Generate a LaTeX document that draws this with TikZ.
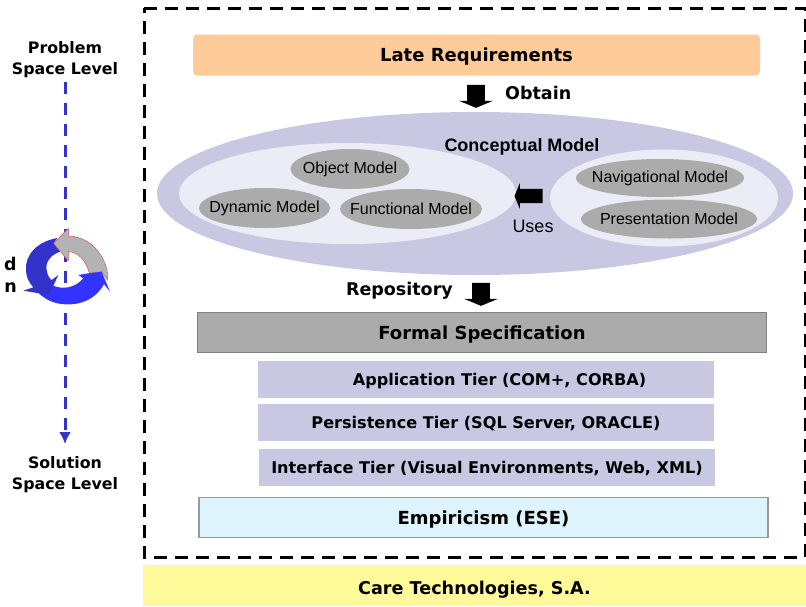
\documentclass[tikz,border=0pt]{standalone}
\usepackage{fontspec}
\setmainfont{Liberation Sans}
\newfontfamily\verdana{DejaVu Sans}
\usetikzlibrary{shapes.geometric,shapes.arrows,arrows.meta}
\definecolor{lila}{HTML}{C8C8E3}
\definecolor{lilaclaro}{HTML}{ECECF7}
\definecolor{gris}{HTML}{ABABAB}
\definecolor{azul}{HTML}{3333CC}
\tikzset{
	etiq/.style={font=\verdana\bfseries\fontsize{#1}{#1}\selectfont,inner sep=0pt},
	etiqc/.style={etiq=#1,text height=.73*#1pt,text depth=0pt},
	modelo/.style={fill=gris,ellipse,inner sep=0pt,inner xsep=-15pt,font=\fontsize{16}{16}\selectfont},
	capa/.style={fill=lila,minimum width=456pt,minimum height=37pt,etiqc=16.1},
	flecha/.style={fill=black,single arrow,inner xsep=0pt,inner ysep=#1,single arrow tip angle=135,single arrow head extend=8pt},
}
\begin{document}
\begin{tikzpicture}[x=1pt,y=-1pt]
	\useasboundingbox (0,0) rectangle (806,606);

	% Niveles
	\node[etiq=15.8,align=center] (problem) at (65,60) {Problem\\[5pt]Space Level};
	\node[etiq=15.8,align=center] (solution) at (65,475) {Solution\\[5pt]Space Level};
	\coordinate (ini) at (65,82);
	\coordinate (fin) at (65,444);
	\draw[azul,line width=3pt,dash pattern=on 12pt off 9pt,-{Latex[length=12pt,width=12pt]}] (ini) -- (fin);

	% Ciclo
	\begin{scope}[shift={(0,210)},scale=1/3]
		\draw[fill=gris!90,draw=red!50!gris,line width=.5pt] (205,55) -- (160,100) -- (205,152) -- (205,125) .. controls (235,125) and (260,155) .. (268,190) -- (305,185) -- (322,210) .. controls (330,170) and (290,80) .. (205,78) -- cycle;
		\fill[blue!80!white] (235,195) -- (265,190) -- (305,185) -- (330,245) -- (312,222) .. controls (290,265) and (245,285) .. (200,283) .. controls (165,283) and (130,270) .. (100,232) -- (155,225) .. controls (185,240) and (225,235) .. (250,205) -- cycle;
		\fill[azul] (172,84) -- (160,100) -- (180,125) .. controls (150,135) and (135,160) .. (140,180) .. controls (142,195) and (148,205) .. (155,210) -- (175,195) -- (147,255) -- (70,242) -- (100,232) .. controls (85,215) and (78,200) .. (78,180) .. controls (75,135) and (110,95) .. (172,84) -- cycle;
	\end{scope}
	\node[etiq=17.5] (d) at (10.5,264) {d};
	\node[etiq=17.5] (n) at (10.5,288) {n};

	% Marco
	\draw[line width=3pt,dash pattern=on 13pt off 8pt] (144,8) -- (805,8) -- (805,557) -- (144,557) -- cycle;

	\node[fill=orange!40!white,rounded corners=4pt,minimum width=567pt,minimum height=41pt,etiqc=18] (late) at (476.5,55) {Late Requirements};

	\node[flecha=8.7pt,rotate=-90,minimum height=23pt] (aobtain) at (476,94.5) {};
	\node[etiq=17.5,anchor=west] (obtain) at (505,93) {Obtain};

	% Modelo conceptual
	\node[ellipse,fill=lila,minimum width=636pt,minimum height=163pt,inner sep=0pt] (conceptual) at (475,193.5) {};
	\node[ellipse,fill=lilaclaro,minimum width=337pt,minimum height=101pt,inner sep=0pt] (izq) at (347.5,193.5) {};
	\node[ellipse,fill=lilaclaro,minimum width=228pt,minimum height=97pt,inner sep=0pt] (der) at (664,198) {};
	\node[font=\bfseries\fontsize{18}{18}\selectfont,inner sep=0pt] (titulo) at (522,147) {Conceptual Model};
	\node[modelo,minimum width=119pt,minimum height=40pt] (object) at (350,169) {Object Model};
	\node[modelo,minimum width=131pt,minimum height=40pt] (dynamic) at (264.5,208) {Dynamic Model};
	\node[modelo,minimum width=142pt,minimum height=40pt] (functional) at (411,209) {Functional Model};
	\node[modelo,minimum width=168pt,minimum height=38pt] (navigational) at (660,178) {Navigational Model};
	\node[modelo,minimum width=176pt,minimum height=39pt] (presentation) at (669,219) {Presentation Model};
	\node[flecha=7pt,rotate=180,minimum height=28pt,single arrow head extend=5.5pt] (auses) at (530,196) {};
	\node[font=\fontsize{18}{18}\selectfont,inner sep=0pt] (uses) at (533,226) {Uses};

	\node[etiq=17.5,anchor=east] (repository) at (453,291) {Repository};
	\node[flecha=8.7pt,rotate=-90,minimum height=23pt] (arepo) at (481,292.5) {};

	% Capas
	\node[fill=gris,draw=black!50,line width=1.5pt,minimum width=569pt,minimum height=40pt,etiqc=18] (formal) at (482,332.5) {Formal Specification};
	\node[capa] (application) at (486,379.5) {\hspace*{27pt}Application Tier (COM+, CORBA)};
	\node[capa] (persistence) at (486,422.5) {Persistence Tier (SQL Server, ORACLE)};
	\node[capa] (interface) at (487,467.5) {Interface Tier (Visual Environments, Web, XML)};
	\node[fill=cyan!13!white,draw=black!40,line width=1.5pt,minimum width=569pt,minimum height=40pt,etiqc=18] (empiricism) at (483.5,517.5) {Empiricism (ESE)};

	\node[fill=yellow!40!white,minimum width=663pt,minimum height=41pt,etiqc=17.6,text height=18pt] (care) at (474.5,585.5) {Care Technologies, S.A.};
\end{tikzpicture}
\end{document}
